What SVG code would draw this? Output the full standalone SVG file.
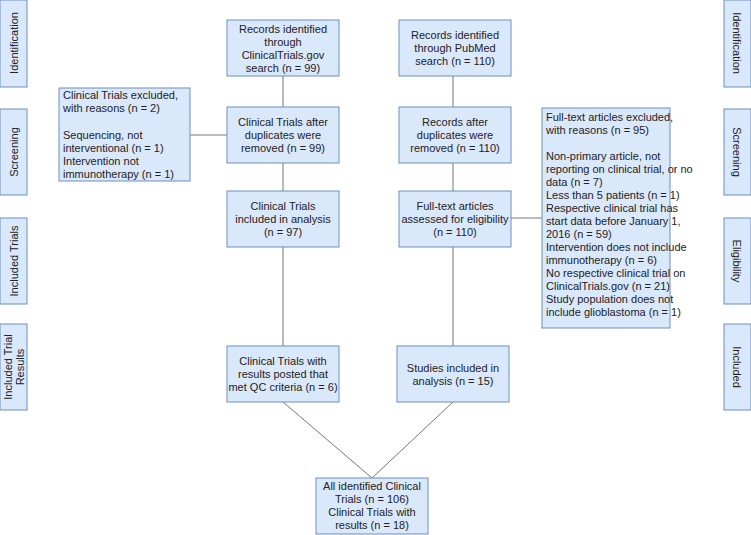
<svg xmlns="http://www.w3.org/2000/svg" width="751" height="535" viewBox="0 0 751 535">
<style>
rect{fill:#dae8fc;stroke:#6c8ebf;stroke-width:1}
text{font-family:"Liberation Sans",Arial,sans-serif;font-size:11px;fill:#222}
.c{text-anchor:middle}
#connectors line{stroke:#777;stroke-width:1}
</style>
<rect width="751" height="535" style="fill:#fff;stroke:none"/>
<g id="connectors">
<line x1="283" y1="76" x2="283" y2="107"/><line x1="283" y1="163" x2="283" y2="191"/><line x1="283" y1="247" x2="283" y2="346"/>
<line x1="190" y1="135" x2="227" y2="135"/>
<line x1="453" y1="76" x2="453" y2="107"/><line x1="453" y1="163" x2="453" y2="191"/><line x1="453" y1="247" x2="453" y2="346"/>
<line x1="511" y1="218" x2="542" y2="218"/>
<line x1="283" y1="402" x2="372" y2="478"/><line x1="453" y1="402" x2="372" y2="478"/>
</g>
<g id="lbl-l1"><rect x="0" y="0" width="27" height="87"/><text class="c" transform="translate(18,43) rotate(-90)">Identification</text></g>
<g id="lbl-l2"><rect x="0" y="109" width="27" height="86"/><text class="c" transform="translate(18,152) rotate(-90)">Screening</text></g>
<g id="lbl-l3"><rect x="0" y="218" width="27" height="86"/><text class="c" transform="translate(18,261) rotate(-90)">Included Trials</text></g>
<g id="lbl-l4"><rect x="0" y="324" width="27" height="86"/><text class="c" transform="translate(12,367) rotate(-90)">Included Trial</text><text class="c" transform="translate(24,367) rotate(-90)">Results</text></g>
<g id="lbl-r1"><rect x="724" y="0" width="27" height="87"/><text class="c" transform="translate(733,43) rotate(90)">Identification</text></g>
<g id="lbl-r2"><rect x="724" y="109" width="27" height="86"/><text class="c" transform="translate(733,152) rotate(90)">Screening</text></g>
<g id="lbl-r3"><rect x="724" y="218" width="27" height="86"/><text class="c" transform="translate(733,261) rotate(90)">Eligibility</text></g>
<g id="lbl-r4"><rect x="724" y="324" width="27" height="86"/><text class="c" transform="translate(733,367) rotate(90)">Included</text></g>
<g id="n-ct-id"><rect x="227" y="20" width="112" height="56"/><text class="c" x="283" y="33">Records identified</text><text class="c" x="283" y="46">through</text><text class="c" x="283" y="59">ClinicalTrials.gov</text><text class="c" x="283" y="72">search (n = 99)</text></g>
<g id="n-ct-dup"><rect x="227" y="107" width="112" height="56"/><text class="c" x="283" y="126">Clinical Trials after</text><text class="c" x="283" y="139">duplicates were</text><text class="c" x="283" y="152">removed (n = 99)</text></g>
<g id="n-ct-excl"><rect x="59" y="88" width="131" height="93"/><text x="63" y="99">Clinical Trials excluded,</text><text x="63" y="112">with reasons (n = 2)</text><text x="63" y="139">Sequencing, not</text><text x="63" y="152">interventional (n = 1)</text><text x="63" y="165">Intervention not</text><text x="63" y="178">immunotherapy (n = 1)</text></g>
<g id="n-ct-inc"><rect x="227" y="191" width="112" height="56"/><text class="c" x="283" y="210">Clinical Trials</text><text class="c" x="283" y="223">included in analysis</text><text class="c" x="283" y="236">(n = 97)</text></g>
<g id="n-ct-res"><rect x="227" y="346" width="112" height="56"/><text class="c" x="283" y="365">Clinical Trials with</text><text class="c" x="283" y="378">results posted that</text><text class="c" x="283" y="391">met QC criteria (n = 6)</text></g>
<g id="n-pm-id"><rect x="399" y="20" width="112" height="56"/><text class="c" x="455" y="39">Records identified</text><text class="c" x="455" y="52">through PubMed</text><text class="c" x="455" y="65">search (n = 110)</text></g>
<g id="n-pm-dup"><rect x="399" y="107" width="112" height="56"/><text class="c" x="455" y="126">Records after</text><text class="c" x="455" y="139">duplicates were</text><text class="c" x="455" y="152">removed (n = 110)</text></g>
<g id="n-pm-elig"><rect x="399" y="191" width="112" height="56"/><text class="c" x="455" y="210">Full-text articles</text><text class="c" x="455" y="223">assessed for eligibility</text><text class="c" x="455" y="236">(n = 110)</text></g>
<g id="n-pm-excl"><rect x="542" y="108" width="128" height="220"/><text x="546" y="121">Full-text articles excluded,</text><text x="546" y="134">with reasons (n = 95)</text><text x="546" y="160">Non-primary article, not</text><text x="546" y="173">reporting on clinical trial, or no</text><text x="546" y="186">data (n = 7)</text><text x="546" y="199">Less than 5 patients (n = 1)</text><text x="546" y="212">Respective clinical trial has</text><text x="546" y="225">start data before January 1,</text><text x="546" y="238">2016 (n = 59)</text><text x="546" y="251">Intervention does not include</text><text x="546" y="264">immunotherapy (n = 6)</text><text x="546" y="277">No respective clinical trial on</text><text x="546" y="290">ClinicalTrials.gov (n = 21)</text><text x="546" y="303">Study population does not</text><text x="546" y="316">include glioblastoma (n = 1)</text></g>
<g id="n-pm-inc"><rect x="397" y="346" width="112" height="56"/><text class="c" x="453" y="372">Studies included in</text><text class="c" x="453" y="385">analysis (n = 15)</text></g>
<g id="n-all"><rect x="316" y="478" width="112" height="56"/><text class="c" x="372" y="490">All identified Clinical</text><text class="c" x="372" y="503">Trials (n = 106)</text><text class="c" x="372" y="516">Clinical Trials with</text><text class="c" x="372" y="529">results (n = 18)</text></g>
</svg>
